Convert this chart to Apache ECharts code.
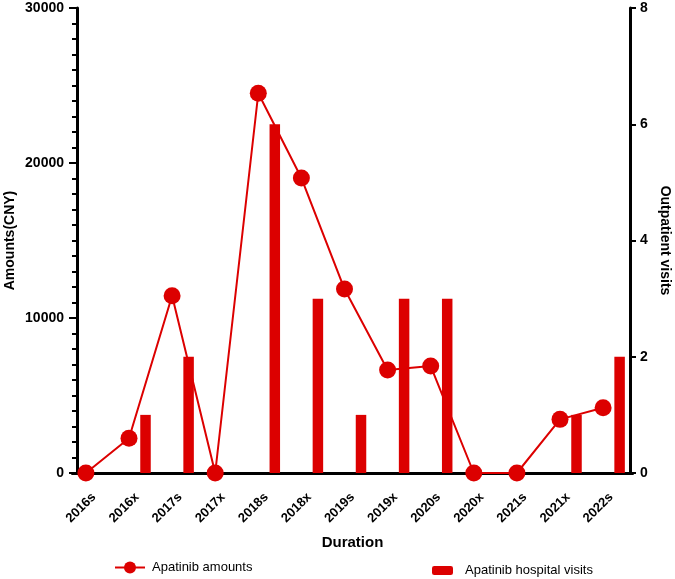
<!DOCTYPE html>
<html>
<head>
<meta charset="utf-8">
<script src="https://cdn.jsdelivr.net/npm/echarts@6/dist/echarts.min.js"></script>
<style>
  html, body { margin: 0; padding: 0; background: #fff; }
  #chart { width: 675px; height: 579px; }
</style>
</head>
<body>
<div id="chart"></div>
<script>
  // 时间段
  var categories = ["2016s", "2016x", "2017s", "2017x", "2018s", "2018x", "2019s",
                    "2019x", "2020s", "2020x", "2021s", "2021x", "2022s"];
  // 金额 (CNY)
  var amounts = [0, 2240, 11440, 0, 24500, 19030, 11870, 6650, 6900, 0, 0, 3460, 4210];
  // 门诊次数
  var visits = [0, 1, 2, 0, 6, 3, 1, 3, 3, 0, 0, 1, 2];
  var leftTicks = [0, 10000, 20000, 30000];
  var rightTicks = [0, 2, 4, 6, 8];

  var red = "#dc0000";
  var font = "Arial, 'Liberation Sans', sans-serif";

  var myChart = echarts.init(document.getElementById("chart"));

  function plain(v) {
    return String(v);
  }

  myChart.setOption({
    animation: false,
    textStyle: { fontFamily: font },
    grid: [
      // 主坐标系（轴线、柱子）
      { left: 72.35, right: 42.35, top: 8, bottom: 106, outerBoundsMode: "none", containLabel: false },
      // 折线向左错开
      { left: 64.35, right: 50.35, top: 8, bottom: 106, outerBoundsMode: "none", containLabel: false }
    ],
    xAxis: [
      {
        type: "category",
        gridIndex: 0,
        data: categories,
        boundaryGap: true,
        name: "Duration",
        nameLocation: "middle",
        nameGap: 62,
        nameTextStyle: { color: "#000", fontWeight: "bold", fontSize: 15, fontFamily: font },
        axisLine: { lineStyle: { color: "#000", width: 3 } },
        axisTick: { alignWithLabel: true, length: 7, lineStyle: { color: "#000", width: 2 } },
        axisLabel: {
          interval: 0,
          rotate: 45,
          margin: 22,
          color: "#000",
          fontWeight: "bold",
          fontSize: 13,
          fontFamily: font
        }
      },
      {
        type: "category",
        gridIndex: 1,
        data: categories,
        boundaryGap: true,
        show: false
      }
    ],
    yAxis: [
      {
        type: "value",
        gridIndex: 0,
        position: "left",
        offset: -4.65,
        min: leftTicks[0],
        max: leftTicks[leftTicks.length - 1],
        interval: leftTicks[1] - leftTicks[0],
        name: "Amounts(CNY)",
        nameLocation: "middle",
        nameGap: 60,
        nameMoveOverlap: false,
        nameTextStyle: { color: "#000", fontWeight: "bold", fontSize: 14, fontFamily: font },
        splitLine: { show: false },
        axisLine: { show: true, lineStyle: { color: "#000", width: 3 } },
        axisTick: { show: true, length: 8, lineStyle: { color: "#000", width: 2 } },
        minorTick: { show: true, splitNumber: 10, length: 5, lineStyle: { color: "#000", width: 2 } },
        axisLabel: { margin: 13, color: "#000", fontWeight: "bold", fontSize: 14, fontFamily: font, formatter: plain }
      },
      {
        type: "value",
        gridIndex: 0,
        position: "right",
        offset: -2.65,
        min: rightTicks[0],
        max: rightTicks[rightTicks.length - 1],
        interval: rightTicks[1] - rightTicks[0],
        name: "Outpatient visits",
        nameLocation: "middle",
        nameRotate: -90,
        nameGap: 28,
        nameMoveOverlap: false,
        nameTextStyle: { color: "#000", fontWeight: "bold", fontSize: 14, fontFamily: font },
        splitLine: { show: false },
        axisLine: { show: true, lineStyle: { color: "#000", width: 3 } },
        axisTick: { show: true, length: 6, lineStyle: { color: "#000", width: 2 } },
        axisLabel: { margin: 10, color: "#000", fontWeight: "bold", fontSize: 14, fontFamily: font, formatter: plain }
      },
      {
        type: "value",
        gridIndex: 1,
        min: leftTicks[0],
        max: leftTicks[leftTicks.length - 1],
        show: false,
        splitLine: { show: false }
      }
    ],
    legend: [
      {
        data: ["Apatinib amounts"],
        left: 109,
        top: 556,
        itemWidth: 30,
        itemHeight: 15,
        textStyle: { color: "#000", fontSize: 13, fontFamily: font, padding: [0, 0, 0, 2] }
      },
      {
        data: ["Apatinib hospital visits"],
        left: 427,
        top: 559,
        itemWidth: 21,
        itemHeight: 9,
        textStyle: { color: "#000", fontSize: 13, fontFamily: font, padding: [0, 0, 0, 7] }
      }
    ],
    series: [
      {
        // 占位，让柱子偏右
        type: "bar",
        xAxisIndex: 0,
        yAxisIndex: 1,
        data: categories.map(function () { return "-"; }),
        barWidth: 10.5,
        barGap: "62%",
        silent: true
      },
      {
        name: "Apatinib hospital visits",
        type: "bar",
        xAxisIndex: 0,
        yAxisIndex: 1,
        data: visits,
        barWidth: 10.5,
        barGap: "62%",
        itemStyle: { color: red }
      },
      {
        name: "Apatinib amounts",
        type: "line",
        xAxisIndex: 1,
        yAxisIndex: 2,
        data: amounts,
        symbol: "circle",
        symbolSize: 17,
        z: 5,
        lineStyle: { color: red, width: 2 },
        itemStyle: { color: red }
      }
    ]
  });
</script>
</body>
</html>
